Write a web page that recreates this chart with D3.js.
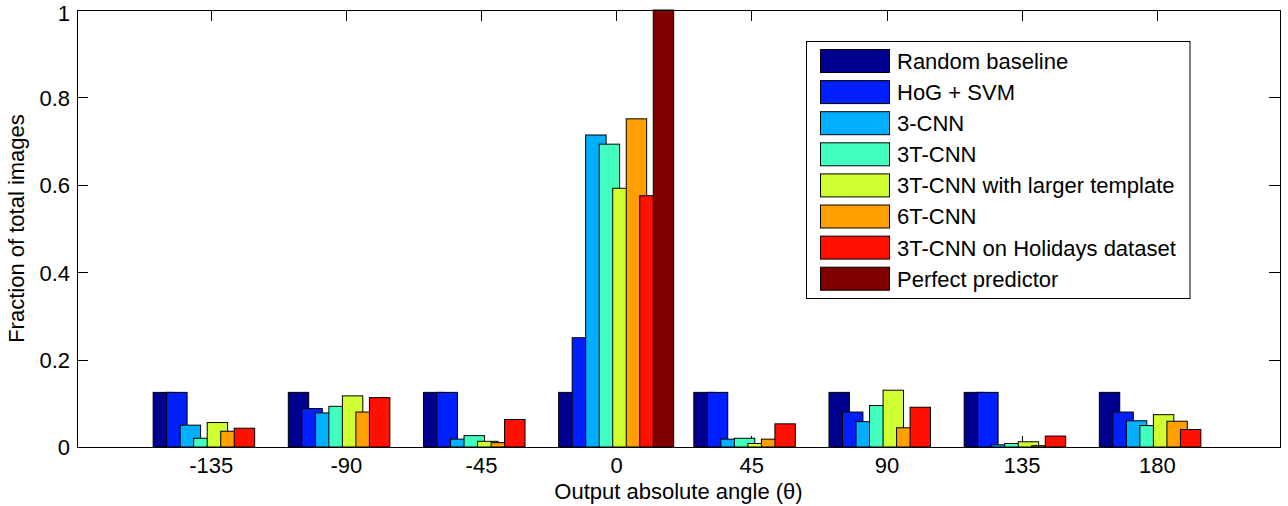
<!DOCTYPE html>
<html>
<head>
<meta charset="utf-8">
<script src="https://cdn.jsdelivr.net/npm/d3@7"></script>
<style>
  html, body { margin: 0; padding: 0; background: #fff; }
  svg { display: block; }
  text { font-family: "Liberation Sans", Arial, Helvetica, sans-serif; fill: #000; }
</style>
</head>
<body>
<svg id="chart" width="1288" height="506"></svg>
<script>
// ---- data ----
const angles = [-135, -90, -45, 0, 45, 90, 135, 180];
const seriesNames = [
  "Random baseline",
  "HoG + SVM",
  "3-CNN",
  "3T-CNN",
  "3T-CNN with larger template",
  "6T-CNN",
  "3T-CNN on Holidays dataset",
  "Perfect predictor"
];
const seriesColors = ["#00008F", "#0020FF", "#00AFFF", "#40FFBF", "#CFFF30", "#FF9F00", "#FF1000", "#800000"];
const randomBaseline = [0.125, 0.125, 0.125, 0.125, 0.125, 0.125, 0.125, 0.125];
const hogSvm         = [0.125, 0.088, 0.125, 0.250, 0.125, 0.080, 0.125, 0.080];
const cnn3           = [0.050, 0.078, 0.018, 0.714, 0.018, 0.058, 0.005, 0.060];
const cnn3T          = [0.020, 0.093, 0.026, 0.693, 0.020, 0.095, 0.008, 0.049];
const cnn3TLarge     = [0.056, 0.117, 0.013, 0.592, 0.008, 0.130, 0.012, 0.074];
const cnn6T          = [0.036, 0.080, 0.010, 0.751, 0.018, 0.044, 0.003, 0.059];
const cnn3THolidays  = [0.043, 0.113, 0.063, 0.575, 0.053, 0.091, 0.025, 0.040];
const perfect        = [0, 0, 0, 1, 0, 0, 0, 0];
const seriesValues = [randomBaseline, hogSvm, cnn3, cnn3T, cnn3TLarge, cnn6T, cnn3THolidays, perfect];
const yTicks = [0, 0.2, 0.4, 0.6, 0.8, 1];
const xLabel = "Output absolute angle (\u03B8)";
const yLabel = "Fraction of total images";

// ---- layout ----
const svg = d3.select("#chart");
const L = 77, R = 1280, T = 10, B = 447;
const FS = 22;
const x = d3.scaleLinear().domain([-179.5, 221]).range([L, R]);
const y = d3.scaleLinear().domain([0, 1]).range([B, T]);
const step = 4.5;     // degrees between adjacent bars in a group
const barW = 6.8;     // bar width in degrees
const nS = seriesValues.length;
const tickLen = 11;

// ticks (drawn beneath bars)
const tg = svg.append("g").attr("stroke", "#000").attr("stroke-width", 1);
angles.forEach(a => {
  const px = Math.round(x(a)) + 0.5;
  tg.append("line").attr("x1", px).attr("x2", px).attr("y1", B).attr("y2", B - tickLen);
  tg.append("line").attr("x1", px).attr("x2", px).attr("y1", T).attr("y2", T + tickLen);
});
yTicks.forEach(v => {
  const py = Math.round(y(v)) + 0.5;
  tg.append("line").attr("x1", L).attr("x2", L + tickLen).attr("y1", py).attr("y2", py);
  tg.append("line").attr("x1", R).attr("x2", R - tickLen).attr("y1", py).attr("y2", py);
});

// bars
const bg = svg.append("g");
seriesValues.forEach((vals, s) => {
  bg.selectAll(null)
    .data(angles.map((a, i) => ({ a, v: vals[i] })).filter(d => d.v > 0))
    .enter().append("rect")
    .attr("x", d => x(d.a + (s - (nS - 1) / 2) * step - barW / 2))
    .attr("width", d => x(d.a + barW) - x(d.a))
    .attr("y", d => y(d.v))
    .attr("height", d => y(0) - y(d.v))
    .attr("fill", seriesColors[s])
    .attr("stroke", "#000")
    .attr("stroke-width", 1);
});

// axes box
svg.append("rect")
  .attr("x", L + 0.5).attr("y", T + 0.5)
  .attr("width", R - L).attr("height", B - T)
  .attr("fill", "none").attr("stroke", "#000").attr("stroke-width", 1);

// tick labels via d3 axes (hide their lines)
const xAxis = d3.axisBottom(x).tickValues(angles).tickSize(0).tickPadding(0).tickFormat(d => String(d));
const xg = svg.append("g").attr("transform", `translate(0,${B})`).call(xAxis);
xg.select(".domain").remove();
xg.selectAll("text").attr("font-size", FS).attr("font-family", null).attr("dy", null)
  .attr("y", 26);

const yAxis = d3.axisLeft(y).tickValues(yTicks).tickSize(0).tickPadding(0).tickFormat(d => String(d));
const yg = svg.append("g").attr("transform", `translate(${L},0)`).call(yAxis);
yg.select(".domain").remove();
yg.selectAll("text").attr("font-size", FS).attr("font-family", null)
  .attr("x", -7).attr("dy", "0.36em")
  .attr("y", d => (d === 1 ? 3 : 0));

// axis labels
svg.append("text").attr("x", (L + R) / 2).attr("y", 499)
  .attr("text-anchor", "middle").attr("font-size", FS).text(xLabel);
svg.append("text")
  .attr("transform", `translate(24,${(T + B) / 2}) rotate(-90)`)
  .attr("text-anchor", "middle").attr("font-size", FS).text(yLabel);

// legend
const lg = svg.append("g");
lg.append("rect").attr("x", 806.5).attr("y", 41.5).attr("width", 383.5).attr("height", 257)
  .attr("fill", "#fff").attr("stroke", "#000").attr("stroke-width", 1);
seriesNames.forEach((name, i) => {
  const cy = 61 + i * 31.1;
  lg.append("rect").attr("x", 820.5).attr("y", cy - 11.5).attr("width", 69).attr("height", 23)
    .attr("fill", seriesColors[i]).attr("stroke", "#000").attr("stroke-width", 1);
  lg.append("text").attr("x", 897).attr("y", cy).attr("dy", "0.36em")
    .attr("font-size", FS).text(name);
});
</script>
</body>
</html>
